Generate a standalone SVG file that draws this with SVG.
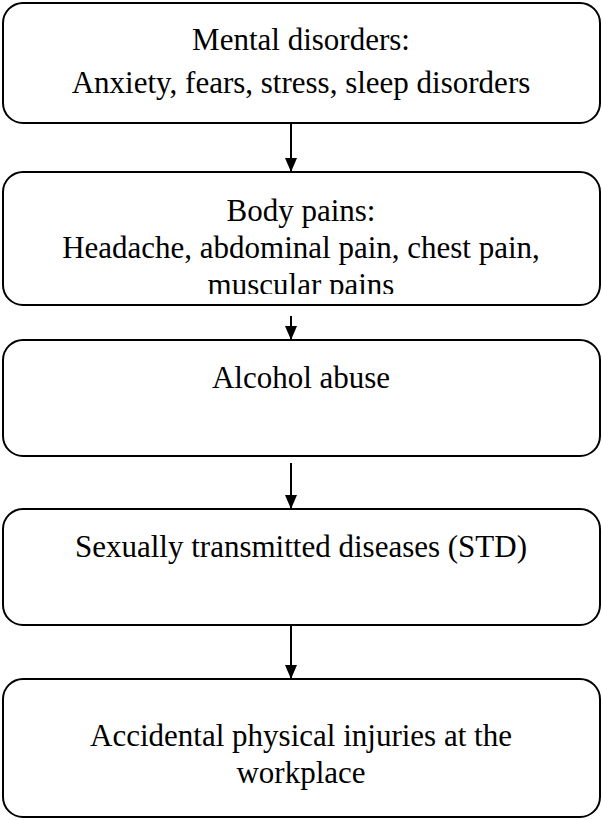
<svg xmlns="http://www.w3.org/2000/svg" width="602" height="820" viewBox="0 0 602 820">
<style>
.box{fill:#fff;stroke:#000;stroke-width:2}
.t{font-family:"Liberation Serif","Times New Roman",serif;font-size:31px;fill:#000;text-anchor:middle}
.c{stroke:#000;stroke-width:2;fill:none}
</style>
<defs>
<marker id="ah" markerWidth="14" markerHeight="12" refX="14" refY="6" orient="auto" markerUnits="userSpaceOnUse" viewBox="0 0 14 12">
<path d="M0,0 L14,6 L0,12 z" fill="#000"/>
</marker>
<clipPath id="cp2"><rect x="3" y="172" width="597" height="122"/></clipPath>
</defs>
<rect width="602" height="820" fill="#fff"/>
<g id="n1"><rect class="box" x="3" y="3" width="597" height="120" rx="20"/>
<text class="t" x="301" y="50">Mental disorders:</text>
<text class="t" x="301" y="93">Anxiety, fears, stress, sleep disorders</text></g>
<g id="n2"><rect class="box" x="3" y="172" width="597" height="133" rx="20"/>
<g clip-path="url(#cp2)">
<text class="t" x="301" y="221">Body pains:</text>
<text class="t" x="301" y="258">Headache, abdominal pain, chest pain,</text>
<text class="t" x="301" y="295">muscular pains</text></g></g>
<g id="n3"><rect class="box" x="3" y="340" width="597" height="116" rx="20"/>
<text class="t" x="301" y="388">Alcohol abuse</text></g>
<g id="n4"><rect class="box" x="3" y="509" width="597" height="116" rx="20"/>
<text class="t" x="301" y="557">Sexually transmitted diseases (STD)</text></g>
<g id="n5"><rect class="box" x="3" y="679" width="597" height="138" rx="20"/>
<text class="t" x="301" y="746">Accidental physical injuries at the</text>
<text class="t" x="301" y="783">workplace</text></g>
<g id="connectors">
<line class="c" x1="291" y1="123" x2="291" y2="172" marker-end="url(#ah)"/>
<line class="c" x1="291" y1="316" x2="291" y2="340" marker-end="url(#ah)"/>
<line class="c" x1="291" y1="463" x2="291" y2="509" marker-end="url(#ah)"/>
<line class="c" x1="291" y1="625" x2="291" y2="679" marker-end="url(#ah)"/>
</g>
</svg>
